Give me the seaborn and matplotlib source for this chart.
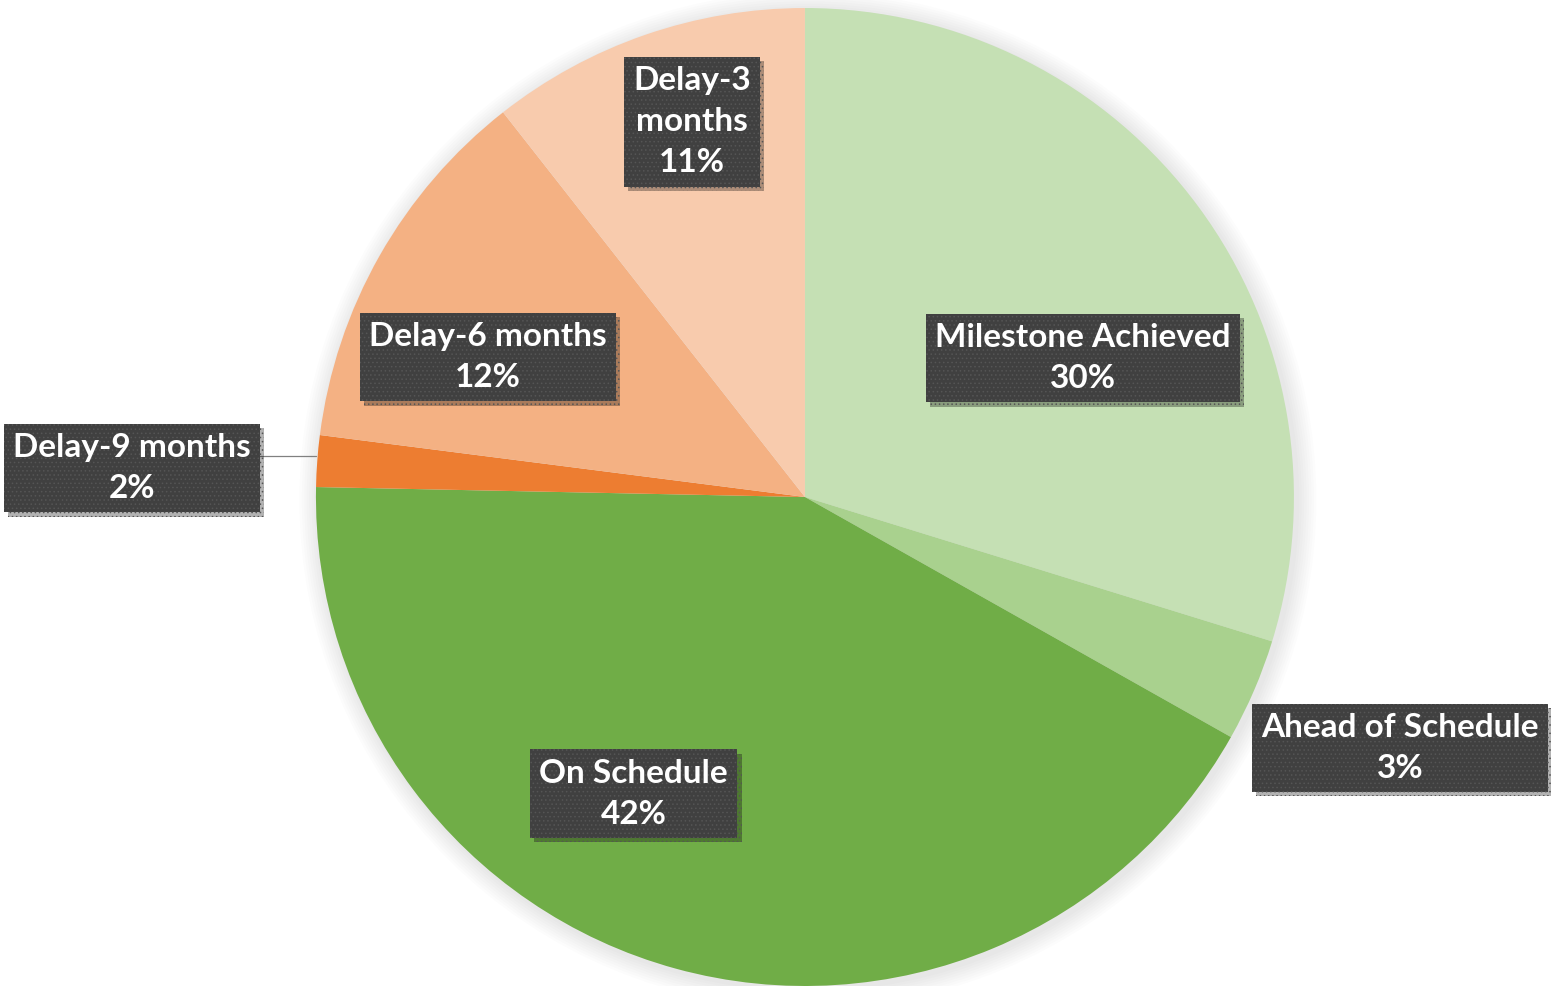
import matplotlib
matplotlib.use("Agg")
import matplotlib.pyplot as plt
import matplotlib.patheffects as pe
from matplotlib.patches import Circle
import seaborn as sns

# data (start at 12 o'clock, clockwise)
labels = ["Milestone Achieved", "Ahead of Schedule", "On Schedule",
          "Delay-9 months", "Delay-6 months", "Delay-3\nmonths"]
values = [29.8, 3.4, 42.2, 1.7, 12.4, 10.6]
colors = ["#C5E0B4", "#A9D18E", "#70AD47", "#ED7D31", "#F4B183", "#F8CBAD"]

# label box centres (radius units, pie centre = 0,0)
label_pos = [(0.569, 0.284), (1.217, -0.513), (-0.350, -0.607),
             (-1.376, 0.059), (-0.648, 0.286), (-0.231, 0.767)]

sns.set_theme(style="white")
plt.rcParams["font.family"] = ["Lato", "DejaVu Sans"]
plt.rcParams["hatch.linewidth"] = 0.6

fig = plt.figure(figsize=(15.51, 9.86), dpi=100)
ax = fig.add_axes([0, 0, 1, 1])

# soft shadow behind the pie
for i in range(8):
    ax.add_patch(Circle((0.006, -0.006), 1.0 + 0.005 * (8 - i), color="#000000",
                        alpha=0.012, lw=0, zorder=0))

wedges, _ = ax.pie(values, colors=colors, startangle=90, counterclock=False,
                   radius=1.0, center=(0, 0), frame=True,
                   wedgeprops=dict(linewidth=0, antialiased=True))
for w in wedges:
    w.set_zorder(2)

total = sum(values)
for lab, v, (x, y) in zip(labels, values, label_pos):
    txt = "%s\n%d%%" % (lab, round(v / total * 100))
    t = ax.text(x, y, txt, ha="center", va="center", color="white",
                fontsize=24, fontweight="bold", linespacing=1.5, zorder=5,
                bbox=dict(boxstyle="square,pad=0.28", facecolor="#404040",
                          edgecolor="#555555", hatch="....", linewidth=0))
    t.get_bbox_patch().set_path_effects(
        [pe.SimplePatchShadow(offset=(3, -3), shadow_rgbFace="#000000", alpha=0.3),
         pe.Normal()])

# leader line for the small slice
ax.plot([-1.117, -1.0], [0.084, 0.084], color="#808080", lw=0.9, zorder=3)

ax.set_xlim(-1.646, 1.5256)
ax.set_ylim(-1.0, 1.0164)
ax.set_aspect("equal")
ax.axis("off")

fig.savefig("out.png", dpi=100, facecolor="white")
